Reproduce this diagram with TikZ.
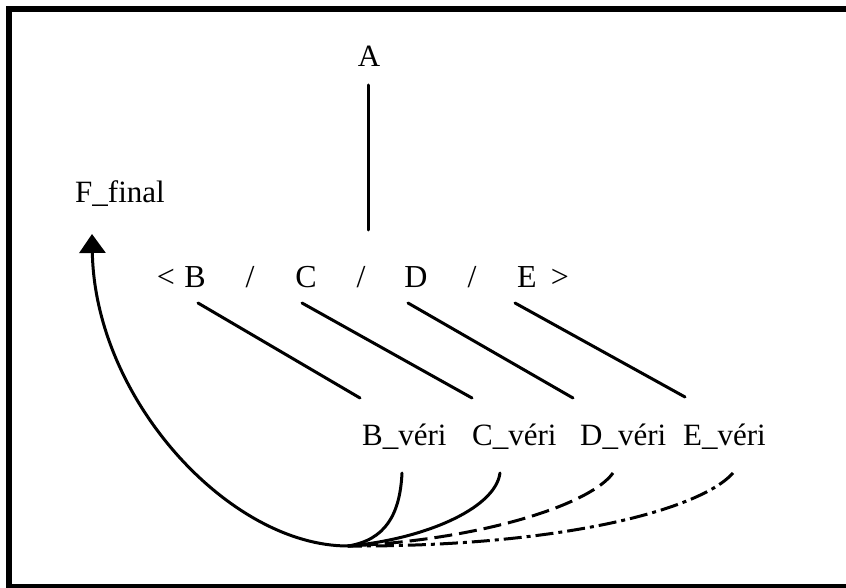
\documentclass[tikz,border=0pt]{standalone}
\usepackage{fontspec}
\setmainfont{Liberation Serif}
\usetikzlibrary{arrows.meta}
\begin{document}
\begin{tikzpicture}[x=1pt,y=-1pt,
  lbl/.style={inner sep=0pt,font=\fontsize{31}{36}\selectfont},
  rowlbl/.style={inner sep=0pt,font=\fontsize{32}{36}\selectfont},
  wire/.style={line width=3pt,line cap=round},
  dashwire/.style={wire,line cap=butt,dash pattern=on 18pt off 7pt},
  dotwire/.style={wire,line cap=butt,dash pattern=on 18pt off 5pt on 4pt off 5pt}]
\useasboundingbox (0,0) rectangle (846,588);
\draw[line width=6pt] (9,9) rectangle (852,587);
% labels
\node[lbl,anchor=base] (A) at (369,67) {A};
\node[lbl,anchor=base west] (F) at (75,203) {F\_final};
\node[rowlbl,anchor=base] (lt) at (166,287) {<};
\node[rowlbl,anchor=base] (nB) at (195,287) {B};
\node[rowlbl,anchor=base] (s1) at (250,287) {/};
\node[rowlbl,anchor=base] (nC) at (306,287) {C};
\node[rowlbl,anchor=base] (s2) at (361,287) {/};
\node[rowlbl,anchor=base] (nD) at (416,287) {D};
\node[rowlbl,anchor=base] (s3) at (472,287) {/};
\node[rowlbl,anchor=base] (nE) at (527,287) {E};
\node[rowlbl,anchor=base] (gt) at (560,287) {>};
\node[lbl,anchor=base west] (bV) at (362,445) {B\_véri};
\node[lbl,anchor=base west] (cV) at (472,445) {C\_véri};
\node[lbl,anchor=base west] (dV) at (580,445) {D\_véri};
\node[lbl,anchor=base west] (eV) at (683,445) {E\_véri};
\coordinate (bot) at (348,546);
% connectors
\draw[wire] ([shift={(-1,18)}]A.base) -- ([shift={(7,-57)}]s2.base);
\draw[wire] ([shift={(3,16)}]nB.base) -- ([shift={(-2,-47)}]bV.base west);
\draw[wire] ([shift={(-4,16)}]nC.base) -- ([shift={(0,-47)}]cV.base west);
\draw[wire] ([shift={(-8,16)}]nD.base) -- ([shift={(-7,-47)}]dV.base west);
\draw[wire] ([shift={(-12,16)}]nE.base) -- ([shift={(2,-48)}]eV.base west);
\draw[wire] ([shift={(40,28)}]bV.base west) .. controls (400,515) and (385,540) .. (bot);
\draw[wire] ([shift={(28,28)}]cV.base west) .. controls (495,510) and (420,540) .. (bot);
\draw[dashwire] ([shift={(33,28)}]dV.base west) .. controls (590,505) and (480,540) .. (bot);
\draw[dotwire] ([shift={(50,28)}]eV.base west) .. controls (700,510) and (560,547) .. (bot);
\draw[wire,-{Triangle[width=26pt,length=19pt]}] (bot) .. controls (230,546) and (95,400) .. ([yshift=-31pt]F.base west -| 92,0);
\end{tikzpicture}
\end{document}
